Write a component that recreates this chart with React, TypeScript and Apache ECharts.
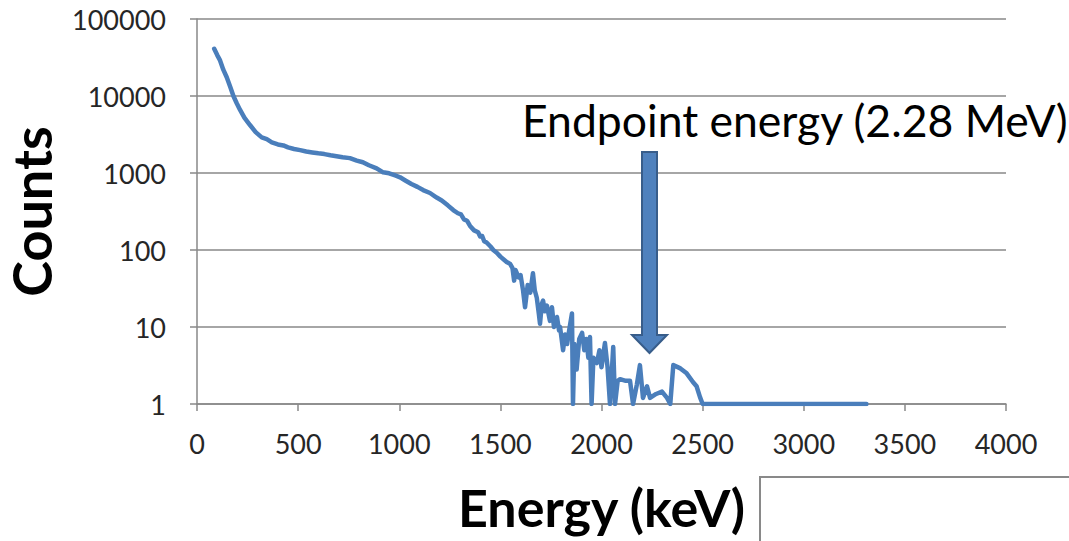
import React, { useEffect, useRef } from "react";
import * as echarts from "echarts";

const energies = [
  85, 100, 114, 130, 147, 165, 180, 197, 213, 235, 262, 290, 320, 345, 370, 400, 427, 450, 480, 510,
  540, 570, 600, 630, 660, 690, 720, 756, 790, 820, 850, 888, 920, 950, 980, 1004, 1030, 1060, 1090, 1118,
  1152, 1185, 1210, 1240, 1267, 1290, 1305, 1320, 1335, 1350, 1370, 1390, 1400, 1410, 1420, 1432, 1450, 1465, 1482, 1500,
  1515, 1531, 1548, 1560, 1568, 1575, 1590, 1600, 1612, 1622, 1635, 1648, 1661, 1670, 1680, 1690, 1696, 1705, 1711, 1720, 1730,
  1745, 1755, 1765, 1780, 1790, 1795, 1800, 1810, 1820, 1830, 1840, 1854, 1859, 1866, 1877, 1890, 1904, 1915, 1925, 1935,
  1943, 1951, 1960, 1977, 1990, 2000, 2017, 2030, 2042, 2058, 2067, 2080, 2092, 2120, 2141, 2156, 2175, 2190, 2205, 2225,
  2240, 2270, 2299, 2324, 2340, 2355, 2390, 2421, 2452, 2470, 2487, 2500, 3310,
];

const counts = [
  41000, 34000, 29000, 22000, 17500, 13000, 10000, 8000, 6600, 5200, 4200, 3400, 2900, 2750, 2500, 2350, 2280, 2150, 2050, 1980,
  1900, 1850, 1800, 1760, 1700, 1650, 1600, 1560, 1450, 1380, 1260, 1150, 1020, 990, 930, 880, 800, 720, 660, 600,
  550, 480, 440, 380, 330, 300, 290, 250, 240, 205, 180, 170, 150, 152, 130, 125, 112, 100, 92, 82,
  76, 70, 66, 58, 40, 55, 44, 47, 30, 18, 35, 28, 50, 30, 24, 15, 11, 20, 22, 16, 19,
  12, 18, 10, 13.5, 9, 10, 8, 5, 8, 6, 9, 15, 1, 6, 2.8, 7, 8.4, 5, 7, 4,
  7.4, 1, 4, 3.4, 5, 3, 6.2, 3, 1, 5.5, 1, 2, 2.1, 2, 2, 1, 1.8, 3.2, 1.2, 1.7,
  1.2, 1.35, 1.45, 1.2, 1, 3.2, 2.9, 2.5, 1.93, 1.7, 1.23, 1, 1,
];

const xTicks = [0, 500, 1000, 1500, 2000, 2500, 3000, 3500, 4000];
const yTicks = [1, 10, 100, 1000, 10000, 100000];

const xTitle = "Energy (keV)";
const yTitle = "Counts";
const annotation = "Endpoint energy (2.28 MeV)";

export default function App() {
  const ref = useRef<HTMLDivElement>(null);
  useEffect(() => {
    if (!ref.current) return;
    const chart = echarts.init(ref.current, null, { renderer: "svg" });
    const font = "Lato, 'Open Sans', sans-serif";
    const data = energies.map((e, i) => [e, counts[i]]);
    chart.setOption({
      animation: false,
      backgroundColor: "#ffffff",
      grid: {
        left: 197,
        top: 19,
        right: 63,
        bottom: 137,
        containLabel: false,
        outerBoundsMode: "none",
      },
      xAxis: {
        type: "value",
        min: xTicks[0],
        max: xTicks[xTicks.length - 1],
        interval: 500,
        axisLine: { show: true, lineStyle: { color: "#898989", width: 1.5 } },
        axisTick: { show: true, length: 7, lineStyle: { color: "#898989", width: 1.5 } },
        splitLine: { show: false },
        axisLabel: {
          fontFamily: font,
          fontSize: 27,
          color: "#262626",
          margin: 26,
          formatter: (v: number) => String(v),
        },
        name: xTitle,
        nameLocation: "middle",
        nameGap: 77,
        nameTextStyle: { fontFamily: font, fontSize: 52, fontWeight: "bold", color: "#000" },
      },
      yAxis: {
        type: "log",
        logBase: 10,
        min: yTicks[0],
        max: yTicks[yTicks.length - 1],
        axisLine: { show: true, lineStyle: { color: "#898989", width: 1.5 } },
        axisTick: { show: true, length: 7, inside: false, lineStyle: { color: "#898989", width: 1.5 } },
        splitLine: { show: true, lineStyle: { color: "#898989", width: 1.5 } },
        minorTick: { show: false },
        axisLabel: {
          fontFamily: font,
          fontSize: 27,
          color: "#262626",
          margin: 31,
          formatter: (v: number) => String(Math.round(v)),
        },
        name: yTitle,
        nameLocation: "middle",
        nameRotate: 90,
        nameGap: 139,
        nameTextStyle: { fontFamily: font, fontSize: 54, fontWeight: "bold", color: "#000" },
      },
      series: [
        {
          type: "line",
          data,
          showSymbol: false,
          symbol: "none",
          smooth: false,
          lineStyle: { color: "#4a7ebb", width: 4.5, join: "round", cap: "round" },
          z: 3,
        },
      ],
      graphic: [
        {
          type: "text",
          left: 522,
          top: 97,
          style: { text: annotation, fontFamily: font, fontSize: 44.5, fill: "#000" },
          z: 10,
        },
        {
          type: "polygon",
          shape: {
            points: [
              [642, 152], [657, 152], [657, 335], [667, 335], [649.5, 353], [632, 335], [642, 335],
            ],
          },
          style: { fill: "#4f81bd", stroke: "#385d8a", lineWidth: 2 },
          z: 10,
        },
        {
          type: "rect",
          shape: { x: 760, y: 477, width: 400, height: 100 },
          style: { fill: "none", stroke: "#898989", lineWidth: 2 },
          z: 10,
        },
      ],
    });
    return () => chart.dispose();
  }, []);
  return (
    <div
      ref={ref}
      style={{ position: "fixed", left: 0, top: 0, width: 1069, height: 541, background: "#fff" }}
    />
  );
}
